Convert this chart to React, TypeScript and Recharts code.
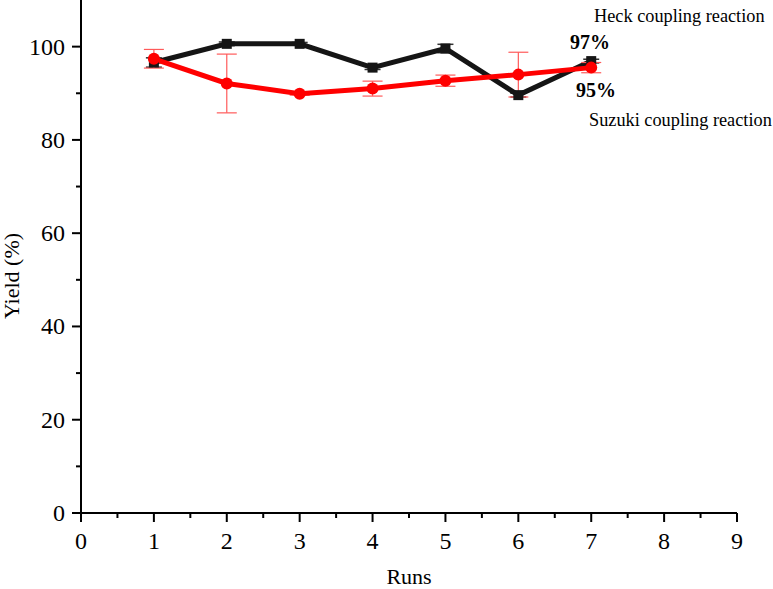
import React from 'react';
import { ComposedChart, Line, XAxis, YAxis, ErrorBar } from 'recharts';

// Reusability test: yield over successive runs
const runs = [1, 2, 3, 4, 5, 6, 7];
const heckYield = [96.6, 100.6, 100.6, 95.5, 99.6, 89.6, 96.9];
const heckErr = [1.0, 0.4, 0.3, 0.4, 0.9, 0.4, 0.4];
const suzukiYield = [97.4, 92.1, 89.9, 91.0, 92.7, 94.0, 95.5];
const suzukiErr = [2.0, 6.3, 0.3, 1.6, 1.2, 4.8, 1.1];

// majors get labels, halves/odd tens are minor ticks
const xTicks = [0, 0.5, 1, 1.5, 2, 2.5, 3, 3.5, 4, 4.5, 5, 5.5, 6, 6.5, 7, 7.5, 8, 8.5, 9];
const yTicks = [0, 10, 20, 30, 40, 50, 60, 70, 80, 90, 100];

const chartData = runs.map((r, i) => ({
  run: r,
  heck: heckYield[i],
  heckErr: heckErr[i],
  suzuki: suzukiYield[i],
  suzukiErr: suzukiErr[i],
}));

const FONT = '"Liberation Serif", "Times New Roman", serif';
const txt = { fontFamily: FONT };

const XTick = (props: any) => {
  const { x, y, payload } = props;
  const major = Number.isInteger(payload.value);
  return (
    <g>
      <line x1={x} x2={x} y1={y} y2={y + (major ? 9 : 5)} stroke="#000" strokeWidth={2} />
      {major && (
        <text x={x} y={y + 28} textAnchor="middle" dominantBaseline="central" fontSize={24} style={txt} fill="#000">
          {payload.value}
        </text>
      )}
    </g>
  );
};

const YTick = (props: any) => {
  const { x, y, payload } = props;
  const major = payload.value % 20 === 0;
  return (
    <g>
      <line x1={x} x2={x - (major ? 9 : 5)} y1={y} y2={y} stroke="#000" strokeWidth={2} />
      {major && (
        <text x={x - 16} y={y} textAnchor="end" dominantBaseline="central" fontSize={24} style={txt} fill="#000">
          {payload.value}
        </text>
      )}
    </g>
  );
};

const SquareDot = (props: any) => {
  const { cx, cy, index } = props;
  if (cx == null || cy == null) return null;
  return <rect key={`sq-${index}`} x={cx - 5} y={cy - 5} width={10} height={10} fill="#151515" />;
};

const App = () => {
  return (
    <div style={{ position: 'absolute', left: 0, top: 0, width: 773, height: 589, background: '#fff', fontFamily: FONT }}>
      <ComposedChart width={773} height={589} data={chartData} margin={{ top: 0, right: 36, left: 0, bottom: 0 }}>
        <XAxis
          dataKey="run"
          type="number"
          domain={[0, 9]}
          ticks={xTicks}
          interval={0}
          height={76}
          tickSize={0}
          tickMargin={0}
          tickLine={false}
          tick={<XTick />}
          axisLine={{ stroke: '#000', strokeWidth: 2 }}
          label={{
            content: () => (
              <text x={409} y={576} textAnchor="middle" dominantBaseline="central" fontSize={22} style={txt} fill="#000">
                Runs
              </text>
            ),
          }}
        />
        <YAxis
          type="number"
          domain={[0, 110]}
          ticks={yTicks}
          interval={0}
          width={81}
          tickSize={0}
          tickMargin={0}
          tickLine={false}
          tick={<YTick />}
          axisLine={{ stroke: '#000', strokeWidth: 2 }}
          label={{
            content: () => (
              <text x={11} y={276} transform="rotate(-90 11 276)" textAnchor="middle" dominantBaseline="central" fontSize={22} style={txt} fill="#000">
                Yield (%)
              </text>
            ),
          }}
        />
        <Line
          dataKey="heck"
          stroke="#151515"
          strokeWidth={5}
          dot={<SquareDot />}
          activeDot={false}
          isAnimationActive={false}
        >
          <ErrorBar dataKey="heckErr" direction="y" width={8} stroke="#333" strokeWidth={1.5} />
        </Line>
        <Line
          dataKey="suzuki"
          stroke="#ff0000"
          strokeWidth={5}
          dot={{ r: 6, fill: '#ff0000', stroke: '#ff0000', strokeWidth: 0 }}
          activeDot={false}
          isAnimationActive={false}
        >
          <ErrorBar dataKey="suzukiErr" direction="y" width={10} stroke="#ff5a5a" strokeWidth={1.2} />
        </Line>
      </ComposedChart>
      <svg width={773} height={589} style={{ position: 'absolute', left: 0, top: 0, pointerEvents: 'none' }}>
        <text x={594} y={16} dominantBaseline="central" fontSize={18.3} style={txt} fill="#000">Heck coupling reaction</text>
        <text x={590} y={42} textAnchor="middle" dominantBaseline="central" fontSize={20} fontWeight="bold" style={txt} fill="#000">97%</text>
        <text x={596} y={90} textAnchor="middle" dominantBaseline="central" fontSize={20} fontWeight="bold" style={txt} fill="#000">95%</text>
        <text x={589} y={120} dominantBaseline="central" fontSize={18.3} style={txt} fill="#000">Suzuki coupling reaction</text>
      </svg>
    </div>
  );
};

export default App;
